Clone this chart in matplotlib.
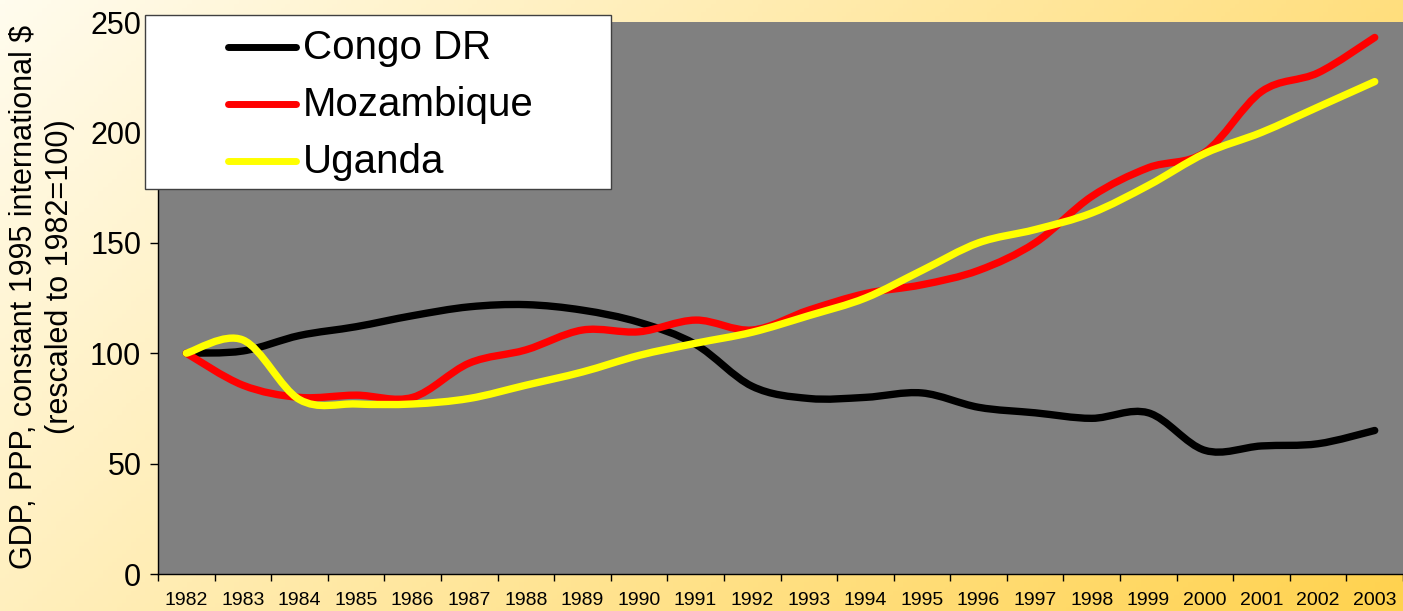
import numpy as np
import matplotlib
matplotlib.use("Agg")
import matplotlib.pyplot as plt
from matplotlib.path import Path
from matplotlib.patches import PathPatch, Rectangle
from matplotlib.lines import Line2D

plt.rcParams['font.family'] = ['Liberation Sans', 'DejaVu Sans']

# GDP, PPP, constant 1995 international $, rescaled to 1982 = 100
years = [str(y) for y in range(1982, 2004)]
congo = [100, 101, 108, 112, 117, 121, 122, 119.5, 114, 104, 85, 79.5,
         80, 82, 75.5, 73, 70.5, 73, 56, 58, 59, 65]
mozambique = [100, 85.5, 80, 81, 80, 95.5, 101.5, 110.5, 109.7, 115, 110.5, 119.5,
              127, 131, 137.5, 150, 171, 184, 191, 218.5, 227, 243]
uganda = [100, 106, 79, 77, 77, 79.5, 85.5, 91.5, 99, 104.5, 109.5, 117,
          125, 137.5, 150, 156, 163.5, 176, 190.5, 200, 211.5, 223]

series = ["Congo DR", "Mozambique", "Uganda"]
values = [congo, mozambique, uganda]
colors = ["#000000", "#ff0000", "#ffff00"]

W, H = 1403, 611


def smooth_path(xs, ys):
    """Excel-style smoothed line as a cubic Bezier path through the points."""
    pts = np.column_stack([xs, ys]).astype(float)
    n = len(pts)
    verts = [pts[0]]
    codes = [Path.MOVETO]
    for i in range(n - 1):
        p0 = pts[max(i - 1, 0)]
        p1 = pts[i]
        p2 = pts[i + 1]
        p3 = pts[min(i + 2, n - 1)]
        verts += [p1 + (p2 - p0) / 6.0, p2 - (p3 - p1) / 6.0, p2]
        codes += [Path.CURVE4] * 3
    return Path(verts, codes)


fig = plt.figure(figsize=(W / 100, H / 100), dpi=100)

# pale yellow to orange-yellow diagonal background
bg = fig.add_axes([0, 0, 1, 1], zorder=-1)
gx, gy = np.meshgrid(np.linspace(0, 1, 300), np.linspace(0, 1, 150))
t = np.clip(0.7 * gx + 0.3 * gy, 0, 1)[..., None]
c0 = np.array([255, 252, 238]) / 255
c1 = np.array([255, 210, 78]) / 255
bg.imshow(c0 + (c1 - c0) * t, aspect='auto', extent=[0, 1, 1, 0])
bg.set_xlim(0, 1)
bg.set_ylim(1, 0)
bg.axis('off')

ax = fig.add_axes([158 / W, 37 / H, 1245 / W, 552 / H])
ax.set_facecolor('#808080')

x = np.arange(len(years))
for name, vals, col in zip(series, values, colors):
    patch = PathPatch(smooth_path(x, vals), facecolor='none', edgecolor=col,
                      lw=5.3, capstyle='round', joinstyle='round')
    ax.add_patch(patch)

ax.set_xlim(-0.5, len(years) - 0.5)
ax.set_ylim(0, 250)

ax.set_xticks(x)
ax.set_xticklabels(years, fontsize=14)
ax.set_xticks(np.arange(-0.5, len(years), 1), minor=True)
ax.tick_params(axis='x', which='major', length=0, pad=13)
ax.tick_params(axis='x', which='minor', length=5, width=1, direction='out')
ax.set_yticks(np.arange(0, 251, 50))
ax.tick_params(axis='y', labelsize=22, length=6, width=1, pad=6)

for side in ['top', 'right']:
    ax.spines[side].set_visible(False)
for side in ['left', 'bottom']:
    ax.spines[side].set_color('black')
    ax.spines[side].set_linewidth(1)

# y label (two centred lines)
fig.text(24 / W, 1 - 297 / H, "GDP, PPP, constant 1995 international $",
         rotation=90, ha='center', va='center', fontsize=22)
fig.text(60 / W, 1 - 277 / H, "(rescaled to 1982=100)",
         rotation=90, ha='center', va='center', fontsize=22)

# legend box drawn in figure pixels
fig.patches.append(Rectangle((145 / W, 1 - 189 / H), 466 / W, 174 / H,
                             transform=fig.transFigure, facecolor='white',
                             edgecolor='#404040', lw=1, zorder=5))
rows = [47, 104, 161]
for name, col, ry in zip(series, colors, rows):
    fig.lines.append(Line2D([228 / W, 296 / W], [1 - ry / H, 1 - ry / H],
                            transform=fig.transFigure, color=col, lw=5,
                            solid_capstyle='round', zorder=6))
    fig.text(303 / W, 1 - (ry + 1) / H, name, fontsize=29, ha='left',
             va='center', zorder=6)

fig.savefig("out.png", dpi=100)
